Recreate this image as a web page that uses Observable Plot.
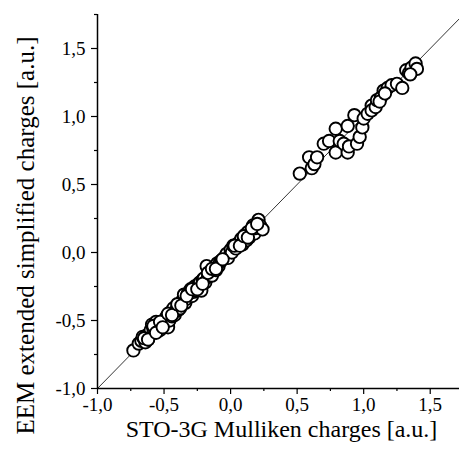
<!DOCTYPE html>
<html>
<head>
<meta charset="utf-8">
<script src="https://cdn.jsdelivr.net/npm/d3@7"></script>
<script src="https://cdn.jsdelivr.net/npm/@observablehq/plot@0.6"></script>
<style>
  html, body { margin: 0; padding: 0; background: #fff; }
  #chart svg { display: block; }
</style>
</head>
<body>
<div id="chart"></div>
<script>
// STO-3G Mulliken charges (x) and EEM extended simplified charges (y)
const stoCharges = [
  -0.73, -0.69, -0.67, -0.66, -0.64, -0.63, -0.62, -0.61, -0.60, -0.59,
  -0.58, -0.57, -0.56, -0.55, -0.54, -0.53, -0.52, -0.50, -0.49, -0.48,
  -0.47, -0.46, -0.45, -0.44, -0.43, -0.42, -0.41, -0.40, -0.39, -0.38,
  -0.36, -0.35, -0.34, -0.33, -0.32, -0.31, -0.30, -0.29, -0.28, -0.27,
  -0.26, -0.25, -0.24, -0.23, -0.22, -0.21, -0.20, -0.19, -0.18, -0.17,
  -0.16, -0.15, -0.14, -0.13, -0.12, -0.11, -0.10, -0.09, -0.08, -0.07,
  -0.05, -0.03, -0.02, 0.00, 0.01, 0.02, 0.04, 0.05, 0.06, 0.08,
  0.09, 0.10, 0.11, 0.12, 0.13, 0.14, 0.15, 0.16, 0.17, 0.18,
  0.19, 0.21, 0.22, 0.24,
  -0.65, -0.62, -0.58, -0.56, -0.53, -0.51, -0.47, -0.44, -0.40, -0.37,
  -0.33, -0.29, -0.25, -0.21, -0.17, -0.14, -0.11, -0.06, 0.03, 0.07,
  0.10, 0.13, 0.16, 0.20,
  0.52, 0.59, 0.61, 0.63, 0.65, 0.70, 0.74, 0.79, 0.79, 0.82,
  0.85, 0.88, 0.88, 0.89, 0.93, 0.95, 0.97, 0.99, 1.00, 1.03,
  1.06, 1.06, 1.09, 1.10, 1.13, 1.15, 1.18, 1.21, 1.25, 1.29,
  1.32, 1.34, 1.36, 1.39, 1.40, 1.12, 1.16, 1.35
];
const eemCharges = [
  -0.72, -0.67, -0.65, -0.62, -0.66, -0.61, -0.64, -0.60, -0.57, -0.53,
  -0.56, -0.55, -0.51, -0.58, -0.54, -0.57, -0.53, -0.52, -0.49, -0.47,
  -0.55, -0.50, -0.44, -0.47, -0.41, -0.46, -0.43, -0.40, -0.42, -0.41,
  -0.35, -0.31, -0.37, -0.34, -0.30, -0.30, -0.27, -0.32, -0.29, -0.25,
  -0.28, -0.26, -0.23, -0.22, -0.28, -0.20, -0.19, -0.22, -0.10, -0.18,
  -0.15, -0.14, -0.17, -0.12, -0.11, -0.13, -0.08, -0.10, -0.07, -0.06,
  -0.04, -0.01, -0.04, 0.02, 0.00, 0.05, 0.03, 0.06, 0.07, 0.10,
  0.06, 0.11, 0.13, 0.09, 0.15, 0.11, 0.14, 0.17, 0.20, 0.14,
  0.18, 0.24, 0.20, 0.17,
  -0.63, -0.64, -0.54, -0.59, -0.51, -0.55, -0.45, -0.46, -0.38, -0.39,
  -0.32, -0.27, -0.27, -0.23, -0.15, -0.12, -0.12, -0.05, 0.05, 0.05,
  0.12, 0.11, 0.18, 0.21,
  0.58, 0.70, 0.62, 0.65, 0.70, 0.80, 0.82, 0.91, 0.735, 0.82,
  0.80, 0.93, 0.735, 0.78, 1.01, 0.80, 0.85, 0.92, 0.985, 1.02,
  1.08, 1.045, 1.07, 1.12, 1.14, 1.19, 1.21, 1.23, 1.24, 1.21,
  1.34, 1.32, 1.36, 1.39, 1.35, 1.11, 1.17, 1.31
];
const xDomain = [-1, 1.72];
const yDomain = [-1, 1.75];
const majorTicks = [-1.0, -0.5, 0.0, 0.5, 1.0, 1.5];
const minorTicksX = [-0.75, -0.25, 0.25, 0.75, 1.25];
const minorTicksY = [-0.75, -0.25, 0.25, 0.75, 1.25, 1.75];
const xTitle = "STO-3G Mulliken charges [a.u.]";
const yTitle = "EEM extended simplified charges [a.u.]";

const points = stoCharges.map((x, i) => ({x, y: eemCharges[i]}));
const diagonal = [{x: xDomain[0], y: xDomain[0]}, {x: xDomain[1], y: xDomain[1]}];
const fmt = d => d.toFixed(1).replace(".", ",");

const chart = Plot.plot({
  width: 459,
  height: 450,
  marginLeft: 97,
  marginRight: 0,
  marginTop: 14,
  marginBottom: 62,
  style: {fontFamily: "'Liberation Serif', 'Times New Roman', serif", background: "#fff", color: "#000"},
  x: {domain: xDomain},
  y: {domain: yDomain},
  marks: [
    Plot.line(diagonal, {x: "x", y: "y", stroke: "#000", strokeWidth: 0.8}),
    Plot.dot(points, {x: "x", y: "y", r: 6.2, fill: "#fff", stroke: "#000", strokeWidth: 1.9}),
    Plot.ruleY([yDomain[0]], {stroke: "#000", strokeWidth: 1.5}),
    Plot.ruleX([xDomain[0]], {stroke: "#000", strokeWidth: 1.5}),
    Plot.axisX({ticks: majorTicks, tickSize: 6, tickPadding: 3, tickFormat: fmt, fontSize: 19, label: null, strokeWidth: 1.2}),
    Plot.axisX({ticks: minorTicksX, tickSize: 3, tickFormat: null, text: null, label: null, strokeWidth: 1.2}),
    Plot.axisY({ticks: majorTicks, tickSize: 6, tickPadding: 6, tickFormat: fmt, fontSize: 19, label: null, strokeWidth: 1.2}),
    Plot.axisY({ticks: minorTicksY, tickSize: 3, tickFormat: null, text: null, label: null, strokeWidth: 1.2}),
    Plot.text([xTitle], {frameAnchor: "bottom", text: d => d, dx: 3, dy: 41, fontSize: 24, textAnchor: "middle", lineAnchor: "middle", fill: "#000"}),
    Plot.text([yTitle], {frameAnchor: "left", text: d => d, rotate: -90, dx: -72, dy: 34, fontSize: 25, textAnchor: "middle", lineAnchor: "middle", fill: "#000"})
  ]
});
document.getElementById("chart").appendChild(chart);
</script>
</body>
</html>
